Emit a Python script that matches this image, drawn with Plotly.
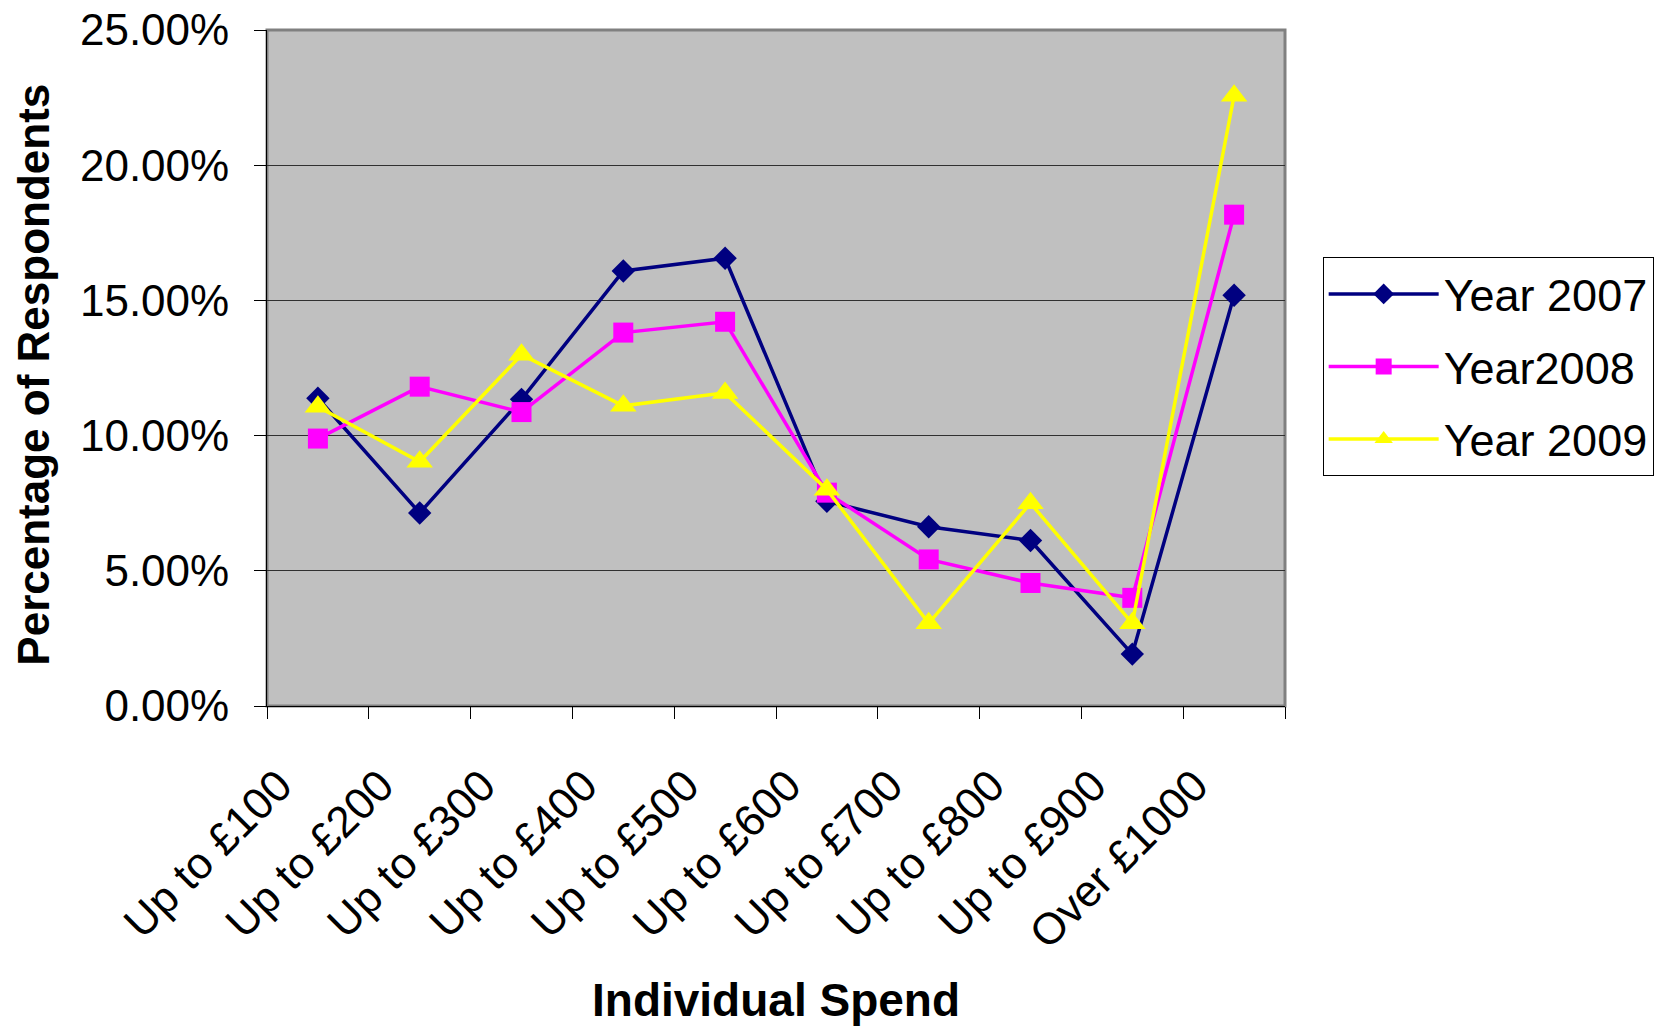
import plotly.graph_objects as go

categories = ["Up to £100", "Up to £200", "Up to £300", "Up to £400", "Up to £500",
              "Up to £600", "Up to £700", "Up to £800", "Up to £900", "Over £1000"]
year_2007 = [11.38, 7.14, 11.34, 16.09, 16.56, 7.57, 6.63, 6.12, 1.92, 15.19]
year_2008 = [9.89, 11.81, 10.87, 13.81, 14.21, 7.89, 5.42, 4.55, 4.00, 18.17]
year_2009 = [11.07, 9.03, 12.99, 11.10, 11.58, 8.00, 3.06, 7.50, 3.06, 22.57]
series_names = ["Year 2007", "Year2008", "Year 2009"]
y_ticks = [0, 5, 10, 15, 20, 25]
y_tick_text = [f"{v:.2f}%" for v in y_ticks]

FONT = "Liberation Sans, Arial, sans-serif"

fig = go.Figure()
styles = [
    (year_2007, "#000080", "diamond", 18),
    (year_2008, "#FF00FF", "square", 20),
    (year_2009, "#FFFF00", "triangle-up", 23),
]
for i, (vals, color, sym, size) in enumerate(styles):
    fig.add_trace(go.Scatter(
        x=categories, y=vals, name=series_names[i], mode="lines+markers",
        line=dict(color=color, width=3.5),
        marker=dict(symbol=sym, size=size, color=color, line=dict(width=0)),
        legendgroup=f"g{i}",
    ))

fig.add_shape(type="rect", xref="x domain", yref="y domain", x0=0, x1=1, y0=0, y1=1,
              line=dict(color="#808080", width=3), layer="below")

fig.update_layout(
    width=1664, height=1027,
    margin=dict(l=267, r=379, t=30, b=321, autoexpand=False),
    paper_bgcolor="white", plot_bgcolor="#C0C0C0",
    font=dict(family=FONT, size=44, color="black"),
    showlegend=True,
    legend=dict(
        x=1.037, y=0.664, xanchor="left", yanchor="top",
        bordercolor="black", borderwidth=1, bgcolor="white",
        font=dict(family=FONT, size=45, color="black"),
        tracegroupgap=11, itemwidth=110,
    ),
    xaxis=dict(
        type="category", tickson="boundaries", ticks="outside", ticklen=12,
        tickcolor="black", tickwidth=1, showline=True, linecolor="black", linewidth=1,
        tickangle=-45, showgrid=False, tickfont=dict(family=FONT, size=44),
        range=[-0.5, 9.5], ticklabelshift=-39, ticklabelstandoff=35,
        automargin=False,
    ),
    yaxis=dict(
        range=[0, 25], tickmode="array", tickvals=y_ticks, ticktext=y_tick_text,
        ticks="outside", ticklen=12, tickcolor="black", showline=True,
        linecolor="black", linewidth=1, showgrid=True, gridcolor="#303030",
        gridwidth=1, zeroline=False, tickfont=dict(family=FONT, size=44),
        ticklabelstandoff=16, automargin=False,
    ),
    annotations=[
        dict(text="<b>Individual Spend</b>", xref="paper", yref="paper",
             x=0.5, y=-0.435, xanchor="center", yanchor="middle", showarrow=False,
             font=dict(family=FONT, size=46, color="black")),
        dict(text="<b>Percentage of Respondents</b>", xref="paper", yref="paper",
             x=-0.229, y=0.49, xanchor="center", yanchor="middle", showarrow=False,
             textangle=-90, font=dict(family=FONT, size=44, color="black")),
    ],
)

fig.write_html("out.html", post_script="document.body.style.margin='0';",
               config={"displayModeBar": False})
